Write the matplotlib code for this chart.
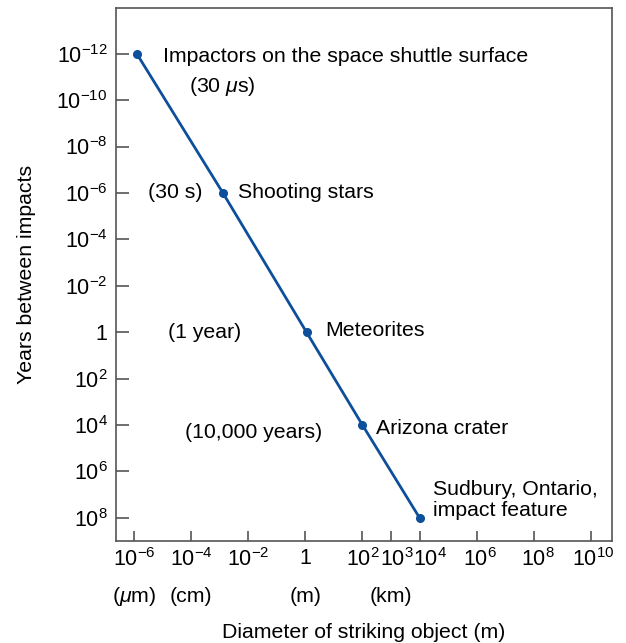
import matplotlib
matplotlib.use("Agg")
import matplotlib.pyplot as plt
from matplotlib.ticker import FixedLocator, FixedFormatter
import matplotlib.transforms as mtransforms

plt.rcParams['font.family'] = ['Liberation Sans', 'DejaVu Sans']
plt.rcParams['mathtext.fontset'] = 'custom'
plt.rcParams['mathtext.rm'] = 'Liberation Sans'
plt.rcParams['mathtext.it'] = 'Liberation Sans:italic'
plt.rcParams['mathtext.default'] = 'regular'

# ---- data ----
diameters = [1.25e-6, 1.3e-3, 1.1, 1e2, 1e4]
years = [1e-12, 1e-6, 1, 1e4, 1e8]

x_ticks = [1e-6, 1e-4, 1e-2, 1, 1e2, 1e3, 1e4, 1e6, 1e8, 1e10]
x_tick_labels = [r'$10^{-6}$', r'$10^{-4}$', r'$10^{-2}$', '1', r'$10^{2}$',
                 r'$10^{3}$', r'$10^{4}$', r'$10^{6}$', r'$10^{8}$', r'$10^{10}$']
y_ticks = [1e-12, 1e-10, 1e-8, 1e-6, 1e-4, 1e-2, 1, 1e2, 1e4, 1e6, 1e8]
y_tick_labels = [r'$10^{-12}$', r'$10^{-10}$', r'$10^{-8}$', r'$10^{-6}$', r'$10^{-4}$',
                 r'$10^{-2}$', '1', r'$10^{2}$', r'$10^{4}$', r'$10^{6}$', r'$10^{8}$']
unit_positions = [1e-6, 1e-4, 1, 1e3]
unit_labels = [r'($\mathit{\mu}$m)', '(cm)', '(m)', '(km)']

point_labels = ['Impactors on the space shuttle surface', 'Shooting stars',
                'Meteorites', 'Arizona crater', 'Sudbury, Ontario,\nimpact feature']
period_labels = [r'(30 $\mathit{\mu}$s)', '(30 s)', '(1 year)', '(10,000 years)']

W, H = 626, 643
fig = plt.figure(figsize=(W / 100, H / 100), dpi=100)
L, R, T, B = 116, 612, 8, 541
ax = fig.add_axes([L / W, 1 - B / H, (R - L) / W, (B - T) / H])

line_color = '#0d4f9a'
ax.plot(diameters, years, color=line_color, lw=2.0, marker='o', ms=5.5,
        solid_capstyle='round')

ax.set_xscale('log')
ax.set_yscale('log')
ax.set_xlim(10 ** -6.63, 10 ** 10.74)
ax.set_ylim(1e9, 10 ** -13.97)

ax.xaxis.set_major_locator(FixedLocator(x_ticks))
ax.xaxis.set_major_formatter(FixedFormatter(x_tick_labels))
ax.yaxis.set_major_locator(FixedLocator(y_ticks))
ax.yaxis.set_major_formatter(FixedFormatter(y_tick_labels))
ax.minorticks_off()

spine_color = '#555555'
for s in ['top', 'right', 'left', 'bottom']:
    ax.spines[s].set_color(spine_color)
    ax.spines[s].set_linewidth(1.2)

fs = 15.3
tfs = 15.5
ax.tick_params(axis='y', direction='in', length=9, width=1.2, color=spine_color,
               labelsize=tfs, pad=6)
ax.tick_params(axis='x', direction='in', length=7, width=1.2, color=spine_color,
               labelsize=tfs, pad=5)

# nudge crowded labels
labels = ax.get_xticklabels()
for lab, dx in zip(labels, [0, 0, 0, 0, 0, 6, 10, 3, 4, 2]):
    if dx:
        lab.set_transform(lab.get_transform() + mtransforms.ScaledTranslation(dx / 100, 0, fig.dpi_scale_trans))

# unit row below x tick labels
blend = mtransforms.blended_transform_factory(ax.transData, fig.transFigure)
for xp, ul in zip(unit_positions, unit_labels):
    ax.text(xp, 1 - 596 / H, ul, transform=blend, ha='center', va='center',
            fontsize=fs, color='black')

def fx(px):
    return (px - L) / (R - L)

def fy(py):
    return (B - py) / (B - T)

# point labels (positions in axes fraction)
pl_pos = [(163, 57), (238, 193), (325, 330), (376, 428), (433, 500)]
for (px, py), txt in zip(pl_pos, point_labels):
    ax.text(fx(px), fy(py), txt, transform=ax.transAxes, ha='left', va='center',
            fontsize=fs, linespacing=1.15)

pr_pos = [(189, 87), (148, 193), (168, 332), (185, 432)]
for (px, py), txt in zip(pr_pos, period_labels):
    ax.text(fx(px), fy(py), txt, transform=ax.transAxes, ha='left', va='center',
            fontsize=fs)

fig.text(27 / W, 1 - 274.5 / H, 'Years between impacts', rotation=90,
         ha='center', va='center', fontsize=fs)
fig.text(364 / W, 1 - 632 / H, 'Diameter of striking object (m)',
         ha='center', va='center', fontsize=fs)

fig.savefig('out.png', dpi=100)
